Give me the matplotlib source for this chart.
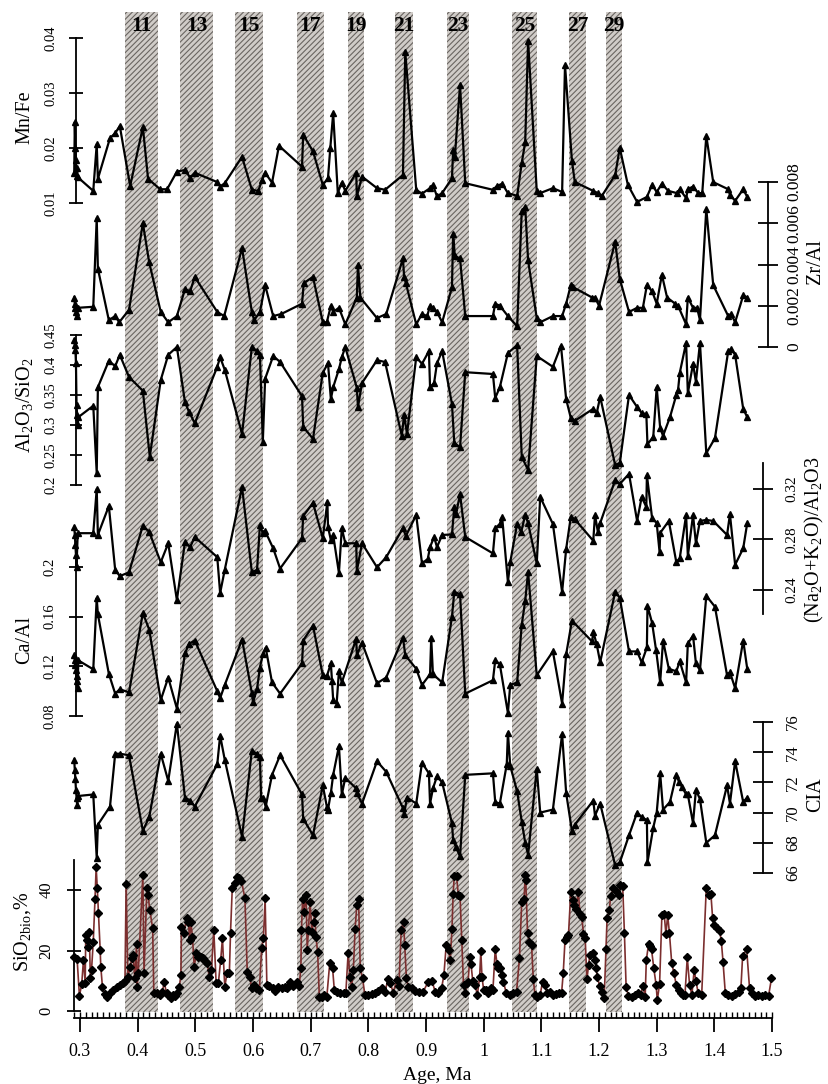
import matplotlib
matplotlib.use("Agg")
import matplotlib.pyplot as plt
from matplotlib.ticker import FixedLocator

plt.rcParams['font.family'] = ['Liberation Serif', 'DejaVu Serif']
plt.rcParams['mathtext.fontset'] = 'custom'
plt.rcParams['mathtext.rm'] = 'Liberation Serif'
plt.rcParams['mathtext.it'] = 'Liberation Serif:italic'
plt.rcParams['mathtext.bf'] = 'Liberation Serif:bold'
plt.rcParams['hatch.linewidth'] = 0.8

# ---------------- data ----------------
mis_labels = ['11', '13', '15', '17', '19', '21', '23', '25', '27', '29']
mis_start = [0.378, 0.473, 0.569, 0.676, 0.765, 0.846, 0.936, 1.049, 1.148, 1.212]
mis_end = [0.435, 0.531, 0.617, 0.723, 0.793, 0.877, 0.975, 1.092, 1.177, 1.240]

x_major = [0.3, 0.4, 0.5, 0.6, 0.7, 0.8, 0.9, 1.0, 1.1, 1.2, 1.3, 1.4, 1.5]
x_labels = ['0.3', '0.4', '0.5', '0.6', '0.7', '0.8', '0.9', '1', '1.1', '1.2', '1.3', '1.4', '1.5']
x_minor = [round(0.29 + 0.01 * i, 2) for i in range(122)]

mnfe = [(0.290, 0.0155), (0.291, 0.0247), (0.292, 0.0200), (0.293, 0.0178), (0.294, 0.0150),
        (0.295, 0.0164), (0.296, 0.0147), (0.323, 0.0122), (0.329, 0.0207), (0.331, 0.0144),
        (0.352, 0.0218), (0.361, 0.0227), (0.369, 0.0240), (0.387, 0.0131), (0.409, 0.0238),
        (0.418, 0.0144), (0.439, 0.0125), (0.451, 0.0125), (0.468, 0.0157), (0.482, 0.0160),
        (0.491, 0.0146), (0.499, 0.0155), (0.538, 0.0138), (0.543, 0.0130), (0.551, 0.0136),
        (0.581, 0.0184), (0.598, 0.0124), (0.609, 0.0122), (0.616, 0.0142), (0.621, 0.0155),
        (0.633, 0.0137), (0.645, 0.0204), (0.685, 0.0166), (0.687, 0.0224), (0.704, 0.0194),
        (0.721, 0.0133), (0.730, 0.0145), (0.734, 0.0200), (0.739, 0.0263), (0.747, 0.0119),
        (0.754, 0.0137), (0.760, 0.0122), (0.779, 0.0155), (0.780, 0.0112), (0.789, 0.0148),
        (0.815, 0.0127), (0.829, 0.0124), (0.860, 0.0151), (0.864, 0.0375), (0.883, 0.0124),
        (0.893, 0.0117), (0.907, 0.0127), (0.912, 0.0133), (0.919, 0.0112), (0.928, 0.0118),
        (0.945, 0.0145), (0.947, 0.0196), (0.950, 0.0184), (0.959, 0.0315), (0.968, 0.0136),
        (1.016, 0.0124), (1.023, 0.0131), (1.032, 0.0135), (1.042, 0.0118), (1.058, 0.0113),
        (1.066, 0.0173), (1.072, 0.0211), (1.077, 0.0395), (1.092, 0.0122), (1.098, 0.0118),
        (1.120, 0.0127), (1.136, 0.0120), (1.141, 0.0351), (1.153, 0.0177), (1.158, 0.0138),
        (1.190, 0.0122), (1.198, 0.0118), (1.205, 0.0113), (1.228, 0.0151), (1.236, 0.0200),
        (1.250, 0.0133), (1.266, 0.0102), (1.283, 0.0111), (1.292, 0.0133), (1.300, 0.0120),
        (1.309, 0.0135), (1.320, 0.0122), (1.335, 0.0118), (1.340, 0.0125), (1.351, 0.0109),
        (1.354, 0.0125), (1.363, 0.0130), (1.372, 0.0118), (1.379, 0.0118), (1.386, 0.0222),
        (1.398, 0.0138), (1.424, 0.0125), (1.427, 0.0115), (1.436, 0.0104), (1.450, 0.0125),
        (1.457, 0.0111)]

zral = [(0.290, 0.0024), (0.291, 0.0021), (0.292, 0.0019), (0.293, 0.0017), (0.294, 0.0015),
        (0.296, 0.0019), (0.323, 0.00195), (0.329, 0.00625), (0.331, 0.0038), (0.350, 0.0013),
        (0.361, 0.0015), (0.368, 0.0012), (0.385, 0.0018), (0.409, 0.0060), (0.420, 0.0041),
        (0.440, 0.0017), (0.453, 0.0012), (0.468, 0.0015), (0.482, 0.0028), (0.491, 0.0027),
        (0.499, 0.0034), (0.538, 0.0017), (0.550, 0.0015), (0.581, 0.0048), (0.598, 0.0017),
        (0.602, 0.0013), (0.612, 0.0017), (0.621, 0.0030), (0.635, 0.0015), (0.649, 0.0016),
        (0.685, 0.0021), (0.688, 0.0031), (0.704, 0.0034), (0.721, 0.0012), (0.728, 0.0012),
        (0.735, 0.0020), (0.739, 0.0017), (0.749, 0.0019), (0.760, 0.0011), (0.780, 0.0024),
        (0.782, 0.0040), (0.786, 0.0024), (0.815, 0.0014), (0.831, 0.0016), (0.860, 0.0043),
        (0.862, 0.0034), (0.865, 0.0031), (0.883, 0.0011), (0.893, 0.0016), (0.902, 0.0015),
        (0.907, 0.0020), (0.912, 0.0019), (0.919, 0.0017), (0.928, 0.0012), (0.945, 0.0029),
        (0.947, 0.0055), (0.950, 0.0044), (0.959, 0.0043), (0.968, 0.0015), (1.016, 0.0015),
        (1.020, 0.0021), (1.028, 0.0020), (1.042, 0.0015), (1.058, 0.0010), (1.066, 0.0066),
        (1.072, 0.0068), (1.077, 0.0042), (1.092, 0.0014), (1.098, 0.0012), (1.120, 0.0015),
        (1.136, 0.0015), (1.143, 0.0021), (1.151, 0.0030), (1.155, 0.0029), (1.188, 0.0024),
        (1.193, 0.0024), (1.200, 0.0020), (1.228, 0.0051), (1.236, 0.0033), (1.252, 0.0017),
        (1.266, 0.0019), (1.276, 0.0019), (1.283, 0.0030), (1.292, 0.0027), (1.300, 0.0021),
        (1.309, 0.0035), (1.318, 0.0024), (1.332, 0.0021), (1.337, 0.0020), (1.351, 0.0011),
        (1.354, 0.0024), (1.363, 0.0019), (1.370, 0.0019), (1.375, 0.0013), (1.386, 0.0067),
        (1.398, 0.0030), (1.424, 0.0015), (1.429, 0.0016), (1.436, 0.0012), (1.450, 0.0025),
        (1.457, 0.0024)]

alsi = [(0.290, 0.442), (0.291, 0.433), (0.292, 0.425), (0.293, 0.403), (0.294, 0.333),
        (0.295, 0.317), (0.296, 0.300), (0.297, 0.313), (0.323, 0.332), (0.329, 0.220),
        (0.331, 0.363), (0.350, 0.407), (0.361, 0.398), (0.369, 0.417), (0.385, 0.380),
        (0.409, 0.357), (0.421, 0.247), (0.440, 0.375), (0.453, 0.417), (0.468, 0.430),
        (0.482, 0.338), (0.489, 0.322), (0.499, 0.303), (0.538, 0.397), (0.543, 0.413),
        (0.551, 0.392), (0.581, 0.285), (0.598, 0.430), (0.607, 0.423), (0.612, 0.417),
        (0.617, 0.272), (0.621, 0.377), (0.635, 0.415), (0.647, 0.405), (0.685, 0.348),
        (0.687, 0.297), (0.704, 0.277), (0.721, 0.387), (0.730, 0.403), (0.735, 0.343),
        (0.739, 0.363), (0.749, 0.393), (0.754, 0.413), (0.760, 0.430), (0.780, 0.362),
        (0.782, 0.330), (0.789, 0.370), (0.815, 0.408), (0.829, 0.405), (0.858, 0.282),
        (0.862, 0.317), (0.867, 0.285), (0.883, 0.413), (0.893, 0.402), (0.905, 0.423),
        (0.907, 0.363), (0.914, 0.370), (0.919, 0.403), (0.928, 0.423), (0.945, 0.335),
        (0.949, 0.270), (0.959, 0.263), (0.968, 0.388), (1.016, 0.385), (1.020, 0.345),
        (1.028, 0.363), (1.042, 0.420), (1.058, 0.433), (1.066, 0.247), (1.077, 0.225),
        (1.092, 0.415), (1.120, 0.397), (1.134, 0.432), (1.143, 0.343), (1.151, 0.312),
        (1.158, 0.307), (1.190, 0.327), (1.196, 0.320), (1.202, 0.347), (1.228, 0.233),
        (1.236, 0.237), (1.252, 0.350), (1.266, 0.330), (1.274, 0.320), (1.282, 0.318),
        (1.284, 0.268), (1.294, 0.280), (1.300, 0.363), (1.306, 0.295), (1.311, 0.282),
        (1.323, 0.313), (1.334, 0.350), (1.337, 0.358), (1.340, 0.387), (1.351, 0.437),
        (1.354, 0.353), (1.363, 0.402), (1.368, 0.372), (1.375, 0.437), (1.386, 0.253),
        (1.401, 0.278), (1.424, 0.423), (1.429, 0.427), (1.436, 0.417), (1.450, 0.327),
        (1.457, 0.313)]

nak = [(0.290, 0.290), (0.291, 0.2836), (0.292, 0.2756), (0.293, 0.268), (0.294, 0.258),
       (0.296, 0.285), (0.323, 0.285), (0.329, 0.320), (0.331, 0.2836), (0.350, 0.3065),
       (0.361, 0.256), (0.369, 0.251), (0.385, 0.254), (0.409, 0.291), (0.420, 0.286),
       (0.440, 0.262), (0.453, 0.277), (0.468, 0.232), (0.482, 0.278), (0.491, 0.274),
       (0.499, 0.282), (0.538, 0.266), (0.543, 0.2376), (0.551, 0.256), (0.581, 0.3216),
       (0.598, 0.254), (0.607, 0.256), (0.612, 0.2915), (0.617, 0.285), (0.621, 0.2867),
       (0.635, 0.273), (0.647, 0.257), (0.685, 0.281), (0.687, 0.2986), (0.704, 0.309),
       (0.721, 0.281), (0.729, 0.310), (0.730, 0.290), (0.735, 0.2796), (0.739, 0.2836),
       (0.749, 0.2535), (0.754, 0.289), (0.760, 0.277), (0.779, 0.277), (0.780, 0.255),
       (0.789, 0.277), (0.815, 0.258), (0.831, 0.266), (0.860, 0.289), (0.865, 0.2828),
       (0.883, 0.2994), (0.893, 0.261), (0.903, 0.2646), (0.907, 0.274), (0.914, 0.282),
       (0.919, 0.274), (0.928, 0.2836), (0.945, 0.284), (0.949, 0.3058), (0.952, 0.300),
       (0.959, 0.316), (0.968, 0.282), (1.016, 0.269), (1.020, 0.289), (1.028, 0.2923),
       (1.032, 0.2978), (1.042, 0.2463), (1.046, 0.262), (1.058, 0.2923), (1.065, 0.286),
       (1.072, 0.2994), (1.077, 0.293), (1.092, 0.261), (1.098, 0.3137), (1.120, 0.2923),
       (1.136, 0.2384), (1.143, 0.2725), (1.151, 0.2978), (1.158, 0.296), (1.190, 0.279),
       (1.193, 0.2994), (1.198, 0.286), (1.202, 0.293), (1.228, 0.327), (1.236, 0.324),
       (1.252, 0.332), (1.266, 0.2947), (1.274, 0.3137), (1.282, 0.3057), (1.283, 0.331),
       (1.292, 0.297), (1.300, 0.293), (1.305, 0.270), (1.306, 0.2852), (1.321, 0.2947),
       (1.334, 0.262), (1.340, 0.2653), (1.351, 0.2994), (1.354, 0.267), (1.363, 0.2994),
       (1.368, 0.277), (1.375, 0.2947), (1.386, 0.2955), (1.398, 0.2947), (1.422, 0.2836),
       (1.427, 0.300), (1.436, 0.260), (1.450, 0.273), (1.457, 0.293)]

caal = [(0.290, 0.129), (0.291, 0.125), (0.292, 0.121), (0.293, 0.117), (0.294, 0.112),
        (0.295, 0.108), (0.296, 0.1024), (0.297, 0.1248), (0.323, 0.1176), (0.329, 0.175),
        (0.331, 0.162), (0.350, 0.114), (0.361, 0.098), (0.369, 0.1016), (0.385, 0.099),
        (0.409, 0.163), (0.420, 0.1496), (0.440, 0.0928), (0.453, 0.111), (0.468, 0.086),
        (0.482, 0.1304), (0.489, 0.138), (0.499, 0.1408), (0.538, 0.100), (0.543, 0.0944),
        (0.551, 0.105), (0.581, 0.1416), (0.598, 0.0984), (0.600, 0.091), (0.607, 0.102),
        (0.612, 0.119), (0.617, 0.130), (0.622, 0.135), (0.633, 0.107), (0.647, 0.098),
        (0.685, 0.1224), (0.687, 0.1408), (0.704, 0.1528), (0.721, 0.1128), (0.728, 0.112),
        (0.735, 0.1224), (0.737, 0.108), (0.739, 0.093), (0.745, 0.090), (0.749, 0.116),
        (0.754, 0.107), (0.779, 0.1424), (0.780, 0.129), (0.789, 0.139), (0.815, 0.1064),
        (0.831, 0.111), (0.860, 0.1432), (0.864, 0.129), (0.883, 0.118), (0.893, 0.105),
        (0.907, 0.1136), (0.909, 0.1432), (0.912, 0.1136), (0.928, 0.107), (0.945, 0.160),
        (0.949, 0.180), (0.959, 0.178), (0.968, 0.098), (1.016, 0.1088), (1.020, 0.1248),
        (1.028, 0.1216), (1.042, 0.0824), (1.046, 0.105), (1.058, 0.107), (1.066, 0.1536),
        (1.072, 0.1728), (1.077, 0.196), (1.092, 0.1128), (1.120, 0.132), (1.136, 0.090),
        (1.143, 0.1296), (1.153, 0.1568), (1.188, 0.140), (1.190, 0.148), (1.196, 0.1376),
        (1.202, 0.1232), (1.228, 0.180), (1.236, 0.1752), (1.252, 0.132), (1.266, 0.132),
        (1.274, 0.1232), (1.283, 0.1352), (1.284, 0.1688), (1.292, 0.155), (1.299, 0.1328),
        (1.306, 0.107), (1.311, 0.1408), (1.321, 0.118), (1.334, 0.116), (1.340, 0.124),
        (1.351, 0.107), (1.354, 0.1384), (1.363, 0.1448), (1.368, 0.1224), (1.375, 0.1168),
        (1.386, 0.1768), (1.401, 0.168), (1.422, 0.1128), (1.427, 0.1152), (1.436, 0.1024),
        (1.450, 0.1408), (1.457, 0.118)]

cia = [(0.290, 73.5), (0.291, 72.8), (0.292, 72.2), (0.293, 71.5), (0.294, 71.0),
       (0.295, 70.5), (0.297, 71.1), (0.323, 71.2), (0.329, 67.0), (0.331, 69.2),
       (0.352, 70.4), (0.361, 73.9), (0.369, 73.9), (0.385, 73.8), (0.409, 68.8),
       (0.420, 69.7), (0.440, 73.9), (0.453, 72.1), (0.468, 75.9), (0.482, 71.0),
       (0.491, 70.8), (0.499, 70.4), (0.538, 73.2), (0.543, 75.1), (0.551, 73.5),
       (0.581, 68.4), (0.598, 74.1), (0.607, 73.9), (0.612, 73.7), (0.614, 71.0),
       (0.617, 71.0), (0.622, 70.4), (0.633, 72.5), (0.647, 73.8), (0.685, 71.2),
       (0.687, 69.6), (0.704, 68.5), (0.721, 71.8), (0.728, 70.4), (0.730, 70.2),
       (0.735, 71.3), (0.739, 72.5), (0.749, 74.4), (0.754, 71.2), (0.760, 72.3),
       (0.779, 71.6), (0.780, 71.3), (0.789, 70.6), (0.815, 73.4), (0.831, 72.7),
       (0.860, 70.3), (0.862, 69.9), (0.867, 71.0), (0.883, 70.6), (0.893, 73.3),
       (0.905, 72.6), (0.907, 70.6), (0.912, 71.6), (0.919, 72.4), (0.928, 72.0),
       (0.945, 69.3), (0.947, 68.2), (0.952, 67.7), (0.959, 67.1), (0.968, 72.5),
       (1.016, 72.6), (1.020, 70.7), (1.028, 70.6), (1.040, 73.2), (1.042, 75.3),
       (1.046, 73.1), (1.058, 71.4), (1.066, 69.4), (1.072, 68.0), (1.077, 67.2),
       (1.092, 72.9), (1.098, 70.0), (1.120, 70.2), (1.136, 75.2), (1.143, 71.3),
       (1.153, 68.8), (1.158, 69.2), (1.190, 70.8), (1.193, 69.8), (1.202, 70.6),
       (1.228, 66.5), (1.236, 66.7), (1.252, 68.5), (1.266, 70.0), (1.274, 69.7),
       (1.283, 69.5), (1.284, 66.7), (1.294, 69.0), (1.300, 70.0), (1.306, 72.6),
       (1.311, 70.2), (1.323, 70.7), (1.334, 72.5), (1.339, 72.0), (1.344, 71.7),
       (1.351, 71.2), (1.354, 71.2), (1.363, 69.3), (1.368, 71.5), (1.375, 70.9),
       (1.386, 68.0), (1.401, 68.5), (1.422, 71.8), (1.427, 70.6), (1.436, 73.4),
       (1.450, 70.7), (1.457, 71.0)]

sio2 = [(0.290, 18.0), (0.295, 17.1), (0.299, 5.0), (0.303, 8.9), (0.306, 16.9), (0.309, 9.4),
        (0.310, 25.1), (0.313, 23.5), (0.314, 21.0), (0.316, 26.2), (0.318, 10.8), (0.320, 13.6),
        (0.323, 22.9), (0.326, 36.9), (0.328, 47.5), (0.330, 40.5), (0.332, 32.3), (0.335, 20.2),
        (0.336, 14.7), (0.339, 7.8), (0.343, 5.6), (0.347, 4.7), (0.352, 5.8), (0.358, 6.9),
        (0.364, 7.8), (0.369, 8.6), (0.374, 9.4), (0.378, 10.0), (0.380, 42.0), (0.383, 11.1),
        (0.387, 14.7), (0.390, 17.4), (0.392, 18.5), (0.395, 10.8), (0.398, 22.1), (0.399, 8.0),
        (0.401, 12.5), (0.409, 45.0), (0.411, 12.5), (0.416, 40.5), (0.418, 38.3), (0.421, 33.4),
        (0.426, 27.3), (0.428, 5.8), (0.433, 5.8), (0.439, 5.3), (0.443, 6.4), (0.446, 9.7),
        (0.450, 5.8), (0.453, 5.3), (0.457, 4.2), (0.461, 5.3), (0.465, 5.0), (0.468, 5.8),
        (0.472, 7.8), (0.475, 11.9), (0.476, 27.9), (0.480, 25.7), (0.485, 30.6), (0.488, 29.5),
        (0.490, 23.5), (0.492, 29.5), (0.495, 24.6), (0.498, 14.7), (0.502, 19.1), (0.505, 18.0),
        (0.509, 17.7), (0.513, 17.4), (0.517, 16.6), (0.521, 15.8), (0.524, 11.1), (0.528, 13.6),
        (0.532, 26.8), (0.536, 9.4), (0.540, 9.4), (0.544, 16.9), (0.547, 24.0), (0.551, 8.0),
        (0.555, 12.5), (0.559, 12.5), (0.561, 25.9), (0.564, 40.5), (0.569, 42.2), (0.573, 44.2),
        (0.576, 43.9), (0.580, 43.0), (0.586, 37.2), (0.590, 13.0), (0.594, 11.4), (0.598, 7.5),
        (0.602, 8.6), (0.606, 7.5), (0.611, 6.9), (0.615, 20.7), (0.618, 24.0), (0.621, 37.2),
        (0.624, 8.6), (0.628, 8.3), (0.634, 7.5), (0.638, 6.7), (0.644, 7.8), (0.650, 7.5),
        (0.655, 8.0), (0.659, 7.5), (0.664, 9.7), (0.670, 8.3), (0.676, 9.7), (0.680, 8.3),
        (0.683, 14.1), (0.684, 26.8), (0.686, 36.9), (0.688, 32.8), (0.692, 38.3), (0.694, 20.2),
        (0.696, 26.8), (0.699, 36.1), (0.702, 26.2), (0.705, 29.5), (0.707, 32.3), (0.709, 24.6),
        (0.712, 19.6), (0.715, 4.7), (0.719, 4.5), (0.723, 5.3), (0.728, 4.7), (0.733, 15.8),
        (0.738, 14.1), (0.741, 6.9), (0.745, 6.4), (0.751, 6.1), (0.757, 6.1), (0.761, 6.1),
        (0.765, 19.3), (0.768, 11.4), (0.771, 8.0), (0.774, 13.6), (0.777, 27.0), (0.780, 35.0),
        (0.783, 36.9), (0.786, 14.1), (0.790, 10.8), (0.794, 5.3), (0.800, 5.3), (0.806, 5.6),
        (0.811, 6.1), (0.817, 6.7), (0.823, 7.5), (0.829, 6.4), (0.834, 10.5), (0.838, 9.4),
        (0.843, 6.1), (0.849, 10.2), (0.853, 8.3), (0.857, 26.8), (0.861, 29.5), (0.863, 21.8),
        (0.866, 10.8), (0.869, 8.0), (0.875, 7.5), (0.881, 6.7), (0.887, 6.4), (0.895, 6.4),
        (0.904, 9.7), (0.910, 10.0), (0.916, 6.4), (0.921, 5.8), (0.927, 7.5), (0.931, 11.9),
        (0.935, 21.8), (0.939, 20.1), (0.942, 16.8), (0.945, 27.0), (0.947, 38.8), (0.949, 44.6),
        (0.953, 44.6), (0.956, 38.3), (0.959, 38.0), (0.962, 23.4), (0.965, 8.6), (0.968, 5.8),
        (0.971, 9.1), (0.973, 9.7), (0.976, 17.9), (0.978, 15.5), (0.981, 10.0), (0.985, 8.6),
        (0.989, 5.3), (0.993, 11.3), (0.995, 19.9), (0.997, 11.3), (1.000, 6.9), (1.004, 6.9),
        (1.008, 5.8), (1.012, 7.5), (1.016, 6.9), (1.020, 20.4), (1.023, 15.7), (1.025, 14.1),
        (1.028, 14.1), (1.031, 11.9), (1.034, 9.7), (1.039, 6.1), (1.045, 5.3), (1.050, 5.8),
        (1.057, 6.4), (1.062, 17.4), (1.066, 36.1), (1.070, 36.9), (1.072, 44.9), (1.073, 43.2),
        (1.076, 25.9), (1.079, 22.9), (1.083, 21.8), (1.086, 10.5), (1.089, 5.3), (1.092, 4.7),
        (1.098, 5.3), (1.102, 9.7), (1.106, 8.6), (1.110, 5.8), (1.115, 6.4), (1.120, 5.3),
        (1.125, 5.6), (1.131, 5.8), (1.135, 5.8), (1.138, 12.7), (1.141, 23.4), (1.144, 24.3),
        (1.147, 25.1), (1.151, 39.4), (1.154, 36.6), (1.157, 35.0), (1.160, 33.6), (1.164, 39.4),
        (1.167, 32.0), (1.170, 31.1), (1.173, 25.6), (1.176, 24.0), (1.179, 10.5), (1.182, 15.2),
        (1.184, 18.5), (1.189, 19.3), (1.193, 16.8), (1.195, 14.1), (1.197, 11.3), (1.201, 8.3),
        (1.205, 6.4), (1.209, 4.2), (1.212, 20.4), (1.214, 30.9), (1.218, 33.3), (1.220, 38.0),
        (1.225, 40.5), (1.229, 39.7), (1.234, 38.3), (1.236, 41.6), (1.241, 41.3), (1.244, 25.9),
        (1.247, 7.8), (1.251, 5.0), (1.257, 4.7), (1.262, 5.3), (1.268, 6.1), (1.272, 5.3),
        (1.276, 8.3), (1.280, 4.7), (1.282, 16.8), (1.286, 22.3), (1.289, 21.5), (1.291, 20.4),
        (1.295, 14.1), (1.299, 8.6), (1.301, 3.6), (1.305, 8.9), (1.309, 31.7), (1.313, 32.0),
        (1.316, 25.4), (1.319, 31.7), (1.322, 25.9), (1.326, 16.0), (1.330, 12.4), (1.334, 8.6),
        (1.338, 6.9), (1.342, 5.8), (1.346, 5.3), (1.349, 5.3), (1.353, 17.7), (1.357, 8.6),
        (1.361, 5.3), (1.365, 13.6), (1.368, 10.0), (1.372, 5.8), (1.378, 5.3), (1.386, 40.8),
        (1.390, 38.3), (1.394, 38.6), (1.397, 30.6), (1.399, 28.4), (1.404, 27.3), (1.409, 26.5),
        (1.412, 23.2), (1.415, 16.3), (1.419, 5.8), (1.424, 5.3), (1.430, 5.0), (1.436, 5.6),
        (1.442, 6.4), (1.446, 7.5), (1.449, 18.2), (1.456, 20.4), (1.461, 7.5), (1.466, 5.8),
        (1.471, 5.0), (1.476, 5.3), (1.482, 5.0), (1.488, 5.3), (1.494, 5.0), (1.499, 10.8)]

# ---------------- layout ----------------
W, H = 829, 1084
fig = plt.figure(figsize=(W / 100, H / 100), dpi=100)
XL = (0.3 - 80 / 576.7, 0.3 + (W - 80) / 576.7)

ax0 = fig.add_axes([0, 0, 1, 1])
ax0.set_xlim(XL)
ax0.set_ylim(H, 0)
ax0.set_autoscale_on(False)
ax0.patch.set_visible(False)
for s in ['left', 'right', 'top']:
    ax0.spines[s].set_visible(False)
ax0.yaxis.set_visible(False)
ax0.xaxis.set_major_locator(FixedLocator(x_major))
ax0.xaxis.set_minor_locator(FixedLocator(x_minor))
ax0.set_xticklabels(x_labels)
ax0.xaxis.remove_overlapping_locs = False
ax0.tick_params(axis='x', which='major', direction='out', length=10, width=1.3,
                labelsize=13, pad=8)
ax0.tick_params(axis='x', which='minor', direction='in', length=4.5, width=1.0)
ax0.spines['bottom'].set_position(('data', 1018))
ax0.spines['bottom'].set_bounds(0.29, 1.5)
ax0.spines['bottom'].set_linewidth(1.3)

for x0, x1, lab in zip(mis_start, mis_end, mis_labels):
    ax0.fill_between([x0, x1], 12, 1012, facecolor='#d0ccc8', edgecolor='#6a6561',
                     hatch='//////', linewidth=0, zorder=0)
    ax0.text((x0 + x1) / 2, 26, lab, ha='center', va='center', fontsize=15.5,
             fontweight='bold', zorder=3)

fig.text(437 / W, 1 - 1075 / H, 'Age, Ma', ha='center', va='center', fontsize=14)


def to_age(px):
    return 0.3 + (px - 80) / 576.7


def panel(pairs, ref, side, spine_px, bounds, ticks, ticklabels, tfs, tlen, tpad,
          color='black', marker='^', ms=5, lw=1.6, mcolor='black'):
    (v1, p1), (v2, p2) = ref
    s = (v2 - v1) / (p1 - p2)
    ax = fig.add_axes([0, 0, 1, 1])
    ax.set_xlim(XL)
    ax.set_ylim(v1 + (p1 - H) * s, v1 + p1 * s)
    ax.set_autoscale_on(False)
    ax.patch.set_visible(False)
    ax.xaxis.set_visible(False)
    for sname in ['left', 'right', 'top', 'bottom']:
        ax.spines[sname].set_visible(False)
    sp = ax.spines[side]
    sp.set_visible(True)
    sp.set_position(('data', to_age(spine_px)))
    sp.set_bounds(*bounds)
    sp.set_linewidth(1.3)
    if side == 'right':
        ax.yaxis.tick_right()
    else:
        ax.yaxis.tick_left()
    ax.yaxis.set_major_locator(FixedLocator(ticks))
    ax.set_yticklabels(ticklabels)
    ax.tick_params(axis='y', direction='inout', length=tlen, width=1.3, labelsize=tfs,
                   pad=tpad, labelrotation=90)
    for t in ax.get_yticklabels():
        t.set_verticalalignment('center')
    xs = [p[0] for p in pairs]
    ys = [p[1] for p in pairs]
    ax.plot(xs, ys, color=color, lw=lw, zorder=2)
    ax.plot(xs, ys, ls='none', marker=marker, ms=ms, color=mcolor, zorder=3)
    return ax


panel(mnfe, ((0.01, 203), (0.04, 38)), 'left', 76, (0.01, 0.04),
      [0.01, 0.02, 0.03, 0.04], ['0.01', '0.02', '0.03', '0.04'], 10.5, 10, 8)
panel(zral, ((0.0, 347), (0.008, 182)), 'right', 768, (0.0, 0.008),
      [0, 0.002, 0.004, 0.006, 0.008], ['0', '0.002', '0.004', '0.006', '0.008'], 12.5, 14, 6)
panel(alsi, ((0.2, 485), (0.45, 335)), 'left', 76, (0.2, 0.45),
      [0.2, 0.25, 0.3, 0.35, 0.4, 0.45], ['0.2', '0.25', '0.3', '0.35', '0.4', '0.45'], 10.5, 9, 9)
panel(nak, ((0.24, 590), (0.32, 489)), 'right', 763, (0.2206, 0.3406),
      [0.24, 0.28, 0.32], ['0.24', '0.28', '0.32'], 11, 14, 9)
panel(caal, ((0.08, 716), (0.20, 567)), 'left', 76, (0.08, 0.2),
      [0.08, 0.12, 0.16, 0.2], ['0.08', '0.12', '0.16', '0.2'], 10.5, 10, 9)
panel(cia, ((66, 873), (76, 722)), 'right', 763, (66, 76),
      [66, 68, 70, 72, 74, 76], ['66', '68', '70', '72', '74', '76'], 12, 14, 9)
panel(sio2, ((0, 1011), (40, 890)), 'left', 74, (0, 50),
      [0, 20, 40], ['0', '20', '40'], 12, 10, 9,
      color='#7b2e2e', marker='D', ms=4, lw=1.2, mcolor='black')

fs_lab = 14.5
fig.text(25 / W, 1 - 117 / H, 'Mn/Fe', rotation=90, ha='center', va='center', fontsize=fs_lab)
fig.text(25 / W, 1 - 405 / H, 'Al$_2$O$_3$/SiO$_2$', rotation=90, ha='center', va='center',
         fontsize=fs_lab)
fig.text(25 / W, 1 - 640 / H, 'Ca/Al', rotation=90, ha='center', va='center', fontsize=fs_lab)
fig.text(23 / W, 1 - 932 / H, 'SiO$_{2\\mathrm{bio}}$,%', rotation=90, ha='center',
         va='center', fontsize=fs_lab)
fig.text(816 / W, 1 - 262 / H, 'Zr/Al', rotation=90, ha='center', va='center', fontsize=fs_lab)
fig.text(814 / W, 1 - 540 / H, '(Na$_2$O+K$_2$O)/Al$_2$O3', rotation=90, ha='center',
         va='center', fontsize=fs_lab)
fig.text(816 / W, 1 - 795 / H, 'CIA', rotation=90, ha='center', va='center', fontsize=fs_lab)

fig.savefig('out.png', dpi=100)
